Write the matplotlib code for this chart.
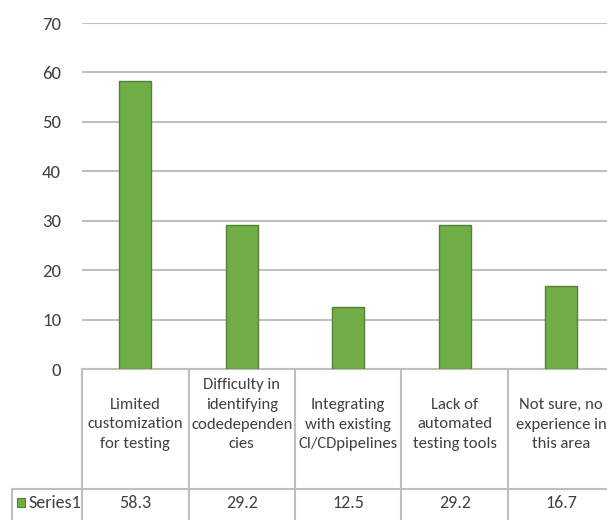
import matplotlib.pyplot as plt
import matplotlib.transforms as mtransforms
from matplotlib.patches import Rectangle

# 課題ごとの回答割合 (%)
categories = [
    "Limited\ncustomization\nfor testing",
    "Difficulty in\nidentifying\ncodedependen\ncies",
    "Integrating\nwith existing\nCI/CDpipelines",
    "Lack of\nautomated\ntesting tools",
    "Not sure, no\nexperience in\nthis area",
]
values = [58.3, 29.2, 12.5, 29.2, 16.7]
value_labels = ["58.3", "29.2", "12.5", "29.2", "16.7"]
series_name = "Series1"

plt.rcParams['font.family'] = ['Carlito', 'DejaVu Sans']
W, H = 607, 520
text_color = "#404040"
line_color = "#bfbfbf"
bar_color = "#70ad47"
fs = 12

fig = plt.figure(figsize=(W / 100, H / 100), dpi=100)
ax = fig.add_axes([82 / W, 1 - 369 / H, (614.5 - 82) / W, (369 - 23) / H])

x = list(range(len(values)))
ax.bar(x, values, width=0.3, color=bar_color, edgecolor="#548235", linewidth=1, zorder=3)

ax.set_xlim(-0.5, len(values) - 0.5)
ax.set_ylim(0, 70)
ax.set_yticks(range(0, 80, 10))
ax.set_xticks([])
ax.yaxis.grid(True, color=line_color, linewidth=1.5)
ax.set_axisbelow(True)
ax.tick_params(axis="y", length=0, pad=15, labelsize=13.5, labelcolor=text_color)
for s in ax.spines.values():
    s.set_visible(False)

# データテーブル部分 (x はデータ座標、y は図のピクセル)
tr = mtransforms.blended_transform_factory(ax.transData, fig.transFigure)
def fy(px):
    return 1 - px / H

def fx(px):
    return px / W

ax.plot([-0.5, 4.5], [fy(369), fy(369)], transform=tr, color=line_color, lw=1.5, clip_on=False)
ax.plot([-0.5, 4.5], [fy(489), fy(489)], transform=tr, color=line_color, lw=1.5, clip_on=False)
fig.add_artist(plt.Line2D([fx(12), fx(82)], [fy(489), fy(489)], color=line_color, lw=1.5))
fig.add_artist(plt.Line2D([fx(12), fx(12)], [fy(489), fy(520)], color=line_color, lw=1.5))
for b in [-0.5, 0.5, 1.5, 2.5, 3.5]:
    ax.plot([b, b], [fy(369), fy(520)], transform=tr, color=line_color, lw=1.5, clip_on=False)

for i, (cat, lab) in enumerate(zip(categories, value_labels)):
    ax.text(i, fy(451), cat, transform=tr, ha="center", va="bottom", fontsize=fs,
            color=text_color, linespacing=1.5)
    ax.text(i, fy(503), lab, transform=tr, ha="center", va="center", fontsize=13,
            color=text_color)

fig.add_artist(Rectangle((fx(17), fy(507)), 8 / W, 9 / H, transform=fig.transFigure,
                         facecolor=bar_color, edgecolor="#548235", lw=0.8))
fig.text(fx(28), fy(503), series_name, ha="left", va="center", fontsize=13, color=text_color)

fig.savefig("out.png", dpi=100)
